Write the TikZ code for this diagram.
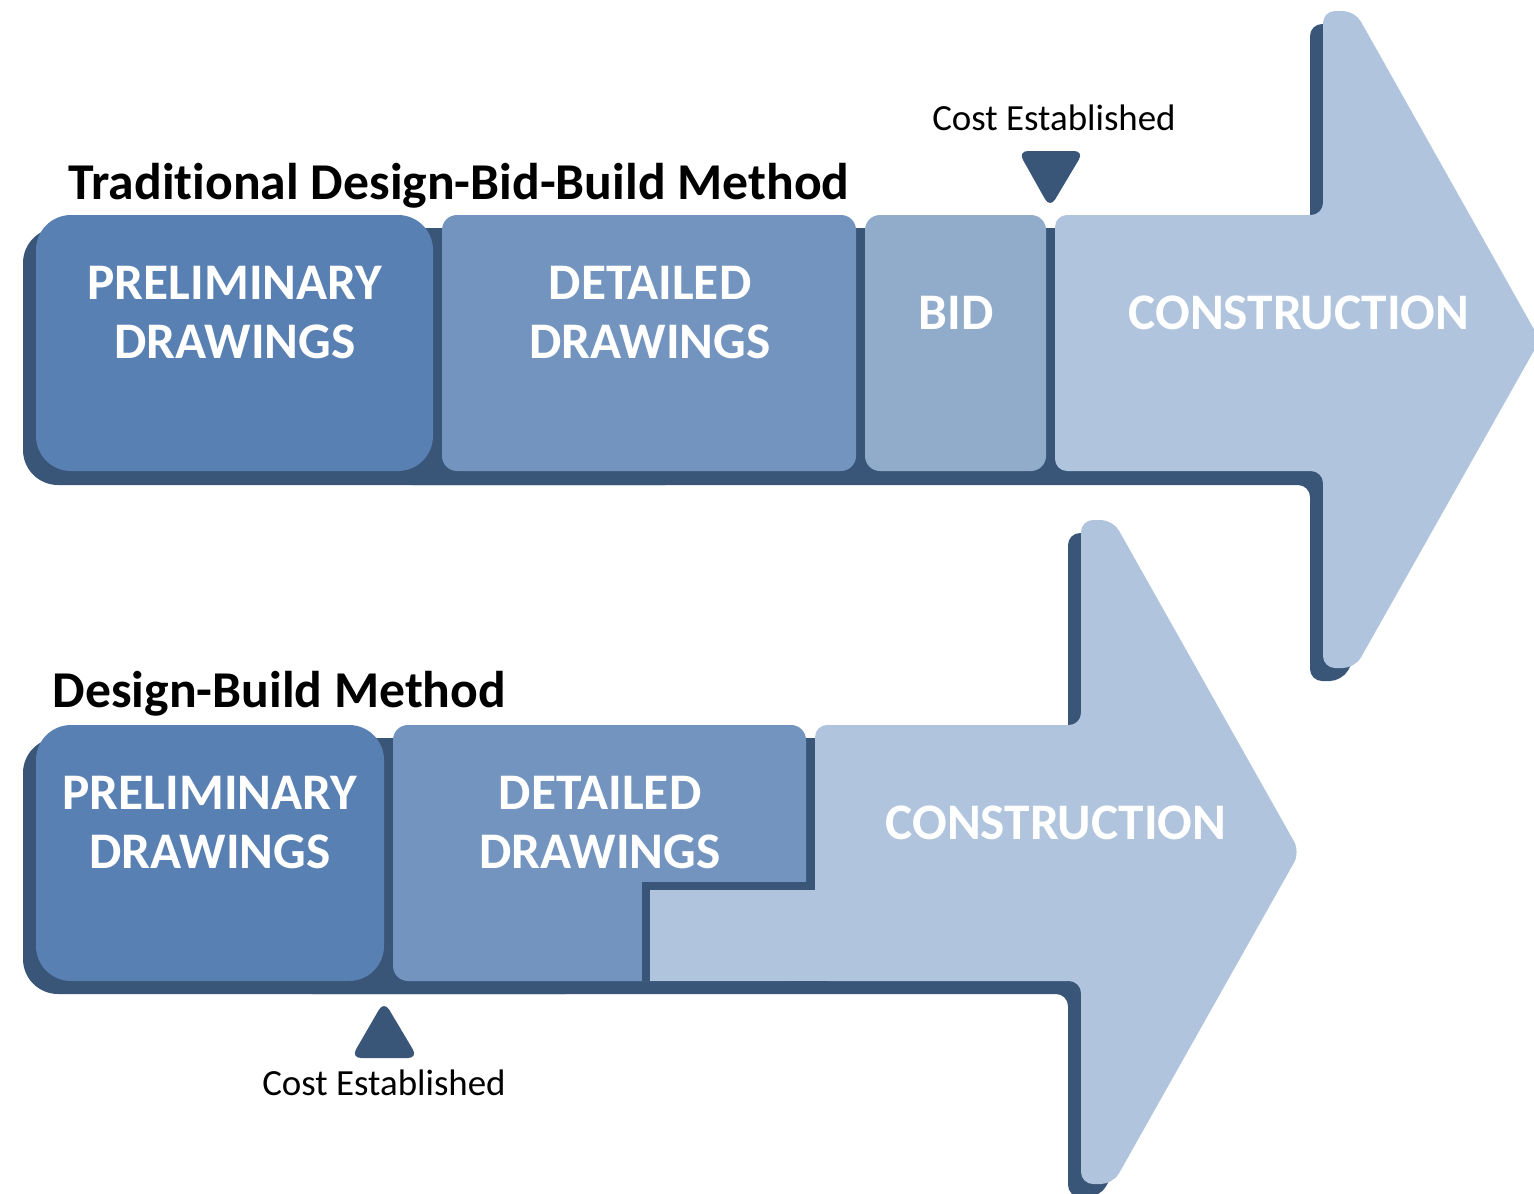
\documentclass[tikz,border=0pt]{standalone}
\usepackage{fontspec}
\setmainfont{Carlito}[Ligatures=NoCommon]
\usetikzlibrary{positioning}
\definecolor{band}{HTML}{395678}
\definecolor{prelim}{HTML}{5980B2}
\definecolor{detail}{HTML}{7294BE}
\definecolor{bidcol}{HTML}{91ABCB}
\definecolor{build}{HTML}{B0C4DD}

\begin{document}
\begin{tikzpicture}[x=0.1mm, y=-0.1mm,
    phase/.style={text=white, font=\bfseries\fontsize{14.6}{16.8}\selectfont, align=center},
    cost/.style={font=\fontsize{10.5}{12.5}\selectfont},
    heading/.style={font=\bfseries\fontsize{14.7}{17.5}\selectfont, anchor=base west, inner sep=0pt}]

\useasboundingbox (0,0) rectangle (1534,1194);

\def \big {3.5mm}   % corner of the first box
\def \small {1.2mm} % corner of the other pieces

% top row: Design-Bid-Build
\fill[band, rounded corners=\big] (23,228) rectangle (700,485);
\fill[band, rounded corners=\small] (400,228) -- (1310,228) -- (1310,24) -- (1342,24)
    -- (1527,353) -- (1342,681) -- (1310,681) -- (1310,485) -- (400,485) -- cycle;
\fill[prelim, rounded corners=\big] (36,215) rectangle (433,471);
\fill[detail, rounded corners=1.5mm] (442,215) rectangle (856,471);
\fill[bidcol, rounded corners=1.5mm] (865,215) rectangle (1046,471);
\fill[build, rounded corners=\small] (1055,215) -- (1323,215) -- (1323,11) -- (1355,11)
    -- (1540,340) -- (1355,668) -- (1323,668) -- (1323,471) -- (1055,471) -- cycle;
\fill[band, rounded corners=1mm] (1018,151) -- (1084,151) -- (1050,208) -- cycle;

\node[heading] (title1) at (68,199) {Traditional Design-Bid-Build Method};
\node[phase] (prelim1) at (235,313) {PRELIMINARY\\DRAWINGS};
\node[phase] (detail1) at (650,313) {DETAILED\\DRAWINGS};
\node[phase] (bid1) at (956,313) {BID};
\node[phase] (build1) at (1299,313) {CONSTRUCTION};
\node[cost] (cost1) at (1054,118) {Cost Established};

% bottom row: Design-Build
\fill[band, rounded corners=\big] (23,738) rectangle (600,994);
\fill[band, rounded corners=\small] (300,738) -- (1068,738) -- (1068,533) -- (1100,533)
    -- (1287,865) -- (1100,1197) -- (1068,1197) -- (1068,994) -- (300,994) -- cycle;
\fill[prelim, rounded corners=\big] (36,725) rectangle (384,981);
\fill[detail, rounded corners=1.5mm] (393,725) rectangle (806,981);
\fill[band] (642,882) rectangle (815,981);
\fill[build, rounded corners=\small] (815,725) -- (1081,725) -- (1081,520) -- (1113,520)
    -- (1300,852) -- (1113,1184) -- (1081,1184) -- (1081,981) -- (815,981) -- cycle;
\fill[build] (650,890) rectangle (830,981);
\fill[band, rounded corners=1mm] (351,1058) -- (418,1058) -- (384,1001) -- cycle;

\node[heading] (title2) at (52,707) {Design-Build Method};
\node[phase] (prelim2) at (210,823) {PRELIMINARY\\DRAWINGS};
\node[phase] (detail2) at (600,823) {DETAILED\\DRAWINGS};
\node[phase] (build2) at (1056,823) {CONSTRUCTION};
\node[cost] (cost2) at (384,1083) {Cost Established};

\end{tikzpicture}
\end{document}
